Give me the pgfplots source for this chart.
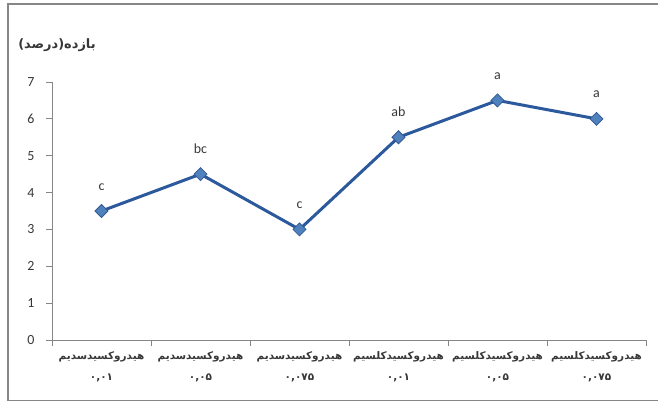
\documentclass[border=0pt]{standalone}
\usepackage{pgfplots}
\pgfplotsset{compat=1.18}
\usepackage{fontspec}
\setmainfont{Carlito}
\newfontfamily\arabicfont[Script=Arabic]{DejaVu Sans}
\TeXXeTstate=1
\definecolor{linec}{RGB}{44,88,156}
\definecolor{markf}{RGB}{79,129,189}
\definecolor{markd}{RGB}{50,90,145}
\definecolor{axc}{RGB}{134,134,134}
\definecolor{txt}{RGB}{55,55,55}
\pgfplotstableread{
x y lab
0 3.5 c
1 4.5 bc
2 3.0 c
3 5.5 ab
4 6.5 a
5 6.0 a
}\datatab
\begin{document}
\begin{tikzpicture}
\begin{axis}[
  at={(52bp,63bp)}, anchor=south west,
  scale only axis, width=594bp, height=258bp,
  xmin=-0.5, xmax=5.5, ymin=0, ymax=7,
  axis x line=bottom, axis y line=left,
  axis line style={draw=axc, line width=0.9bp, -},
  ytick={0,1,...,7},
  xtick={0,...,5},
  major x tick style={draw=none},
  minor xtick={-0.5,0.5,1.5,2.5,3.5,4.5,5.5},
  minor tick length=6bp,
  major tick length=6bp,
  tick align=outside,
  tick style={draw=axc, line width=0.9bp},
  yticklabel style={font=\fontsize{14}{16}\selectfont, text=txt, xshift=-8bp},
  /pgf/number format/assume math mode=true,
  xticklabel style={align=center, font=\arabicfont\bfseries\fontsize{10.5}{21}\selectfont, text=txt, yshift=-2bp},
  xticklabels={
    {\beginR هیدروکسیدسدیم\endR\\۰,۰۱},
    {\beginR هیدروکسیدسدیم\endR\\۰,۰۵},
    {\beginR هیدروکسیدسدیم\endR\\۰,۰۷۵},
    {\beginR هیدروکسیدکلسیم\endR\\۰,۰۱},
    {\beginR هیدروکسیدکلسیم\endR\\۰,۰۵},
    {\beginR هیدروکسیدکلسیم\endR\\۰,۰۷۵}},
  clip=false,
]
\addplot[color=linec, line width=3bp, mark=square*,
  mark size=4.6bp,
  mark options={rotate=45, fill=markf, draw=markd, line width=0.8bp},
  nodes near coords, point meta=explicit symbolic,
  every node near coord/.style={anchor=base, yshift=21bp, font=\fontsize{14}{16}\selectfont, text=txt}]
  table[x=x, y=y, meta=lab] {\datatab};
\end{axis}
\node[font=\arabicfont\bfseries\fontsize{13}{15}\selectfont, text=txt] at (57bp,358bp) {\beginR بازده(درصد)\endR};
\draw[axc, line width=1.5bp] (8bp,2.5bp) rectangle (700bp,399bp);
\pgfresetboundingbox
\path[use as bounding box] (0,0) rectangle (658bp,403bp);
\end{tikzpicture}
\end{document}
